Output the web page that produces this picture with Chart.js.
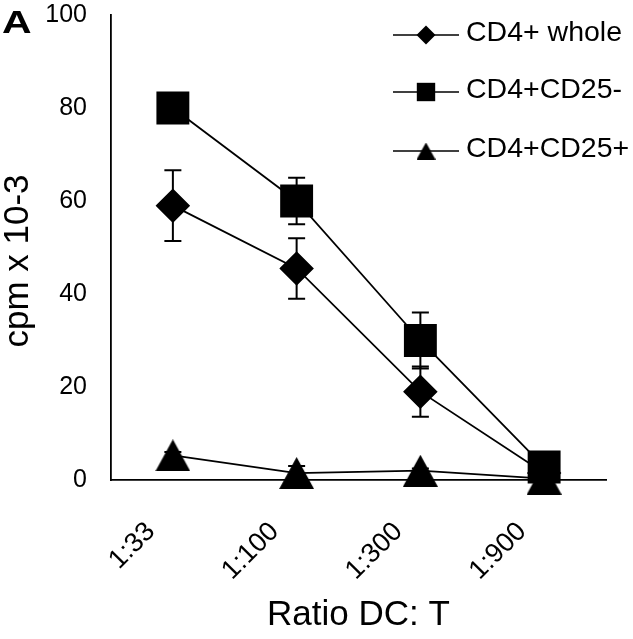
<!DOCTYPE html>
<html>
<head>
<meta charset="utf-8">
<script src="https://cdn.jsdelivr.net/npm/chart.js@4"></script>
<style>
  html, body { margin: 0; padding: 0; background: #fff; }
  #wrap { width: 633px; height: 639px; }
</style>
</head>
<body>
<div id="wrap"><canvas id="chart"></canvas></div>
<script>
const labels = ['1:33', '1:100', '1:300', '1:900'];
const yTicks = [0, 20, 40, 60, 80, 100];

const wholeValues = [59, 45.5, 19, 1.5];
const wholeErr = [7.6, 6.5, 5.4, 0.8];

const cd25negValues = [80, 60, 30, 2.8];
const cd25negErr = [1, 5, 6, 1];

const cd25posValues = [5.3, 1.5, 2, 0.3];
const cd25posErr = [0.7, 1.5, 0.5, 0.3];

const FONT = "'Liberation Sans', Arial, Helvetica, sans-serif";

// triangle marker as a small canvas so it is centred on its box like the original
function triangle(w, h) {
  const c = document.createElement('canvas');
  c.width = w; c.height = h;
  const g = c.getContext('2d');
  g.fillStyle = '#000';
  g.beginPath();
  g.moveTo(w / 2, 0);
  g.lineTo(w, h);
  g.lineTo(0, h);
  g.closePath();
  g.fill();
  return c;
}
const triBig = triangle(35, 32);
const triSmall = triangle(19, 17);

const errors = [wholeErr, cd25negErr, cd25posErr];

const errorBars = {
  id: 'errorBars',
  beforeDatasetsDraw(chart) {
    const ctx = chart.ctx;
    const y = chart.scales.y;
    ctx.save();
    ctx.strokeStyle = '#000';
    ctx.lineWidth = 2;
    chart.data.datasets.forEach((ds, i) => {
      const meta = chart.getDatasetMeta(i);
      meta.data.forEach((pt, j) => {
        const e = errors[i][j];
        const top = y.getPixelForValue(ds.data[j] + e);
        const bot = y.getPixelForValue(ds.data[j] - e);
        ctx.beginPath();
        ctx.moveTo(pt.x, top); ctx.lineTo(pt.x, bot);
        ctx.moveTo(pt.x - 8.5, top); ctx.lineTo(pt.x + 8.5, top);
        ctx.moveTo(pt.x - 8.5, bot); ctx.lineTo(pt.x + 8.5, bot);
        ctx.stroke();
      });
    });
    ctx.restore();
  }
};

const legendItems = [
  { text: 'CD4+ whole', style: 'rectRot', radius: 9.5 },
  { text: 'CD4+CD25-', style: 'rect', radius: 13 },
  { text: 'CD4+CD25+', style: triSmall, radius: 9 }
];

const extras = {
  id: 'extras',
  afterDraw(chart) {
    const ctx = chart.ctx;
    ctx.save();
    // panel letter
    ctx.fillStyle = '#000';
    ctx.font = 'bold 32px ' + FONT;
    ctx.textAlign = 'left';
    ctx.textBaseline = 'alphabetic';
    ctx.save();
    ctx.translate(2, 33);
    ctx.scale(1.28, 1);
    ctx.fillText('A', 0, 0);
    ctx.restore();
    // y axis title, centred a little below the plot middle as in the original
    ctx.save();
    ctx.translate(18, 261);
    ctx.rotate(-Math.PI / 2);
    ctx.font = '35px ' + FONT;
    ctx.textAlign = 'center';
    ctx.textBaseline = 'middle';
    ctx.fillText('cpm x 10-3', 0, 0);
    ctx.restore();
    // legend
    const rows = [35, 92, 151];
    legendItems.forEach((it, k) => {
      const ly = rows[k];
      ctx.strokeStyle = '#000';
      ctx.lineWidth = 1.5;
      ctx.beginPath();
      ctx.moveTo(393, ly); ctx.lineTo(459, ly);
      ctx.stroke();
      ctx.fillStyle = '#000';
      Chart.helpers.drawPoint(ctx, { pointStyle: it.style, radius: it.radius, rotation: 0, borderWidth: 0 }, 426, ly);
      ctx.font = '28.5px ' + FONT;
      ctx.textAlign = 'left';
      ctx.textBaseline = 'middle';
      ctx.fillText(it.text, 466, ly - 2);
    });
    ctx.restore();
  }
};

new Chart(document.getElementById('chart'), {
  type: 'line',
  data: {
    labels: labels,
    datasets: [
      {
        label: 'CD4+ whole',
        data: wholeValues,
        borderColor: '#000',
        backgroundColor: '#000',
        borderWidth: 1.8,
        pointStyle: 'rectRot',
        pointRadius: 16,
        pointHoverRadius: 16,
        clip: false,
        order: 1
      },
      {
        label: 'CD4+CD25-',
        data: cd25negValues,
        borderColor: '#000',
        backgroundColor: '#000',
        borderWidth: 1.8,
        pointStyle: 'rect',
        pointRadius: 22,
        pointHoverRadius: 22,
        clip: false,
        order: 0
      },
      {
        label: 'CD4+CD25+',
        data: cd25posValues,
        borderColor: '#000',
        backgroundColor: '#000',
        borderWidth: 1.8,
        pointStyle: triBig,
        pointRadius: 18,
        clip: false,
        order: 2
      }
    ]
  },
  options: {
    responsive: true,
    maintainAspectRatio: false,
    animation: false,
    layout: { autoPadding: false, padding: { top: 15, right: 27, left: 0, bottom: 0 } },
    plugins: {
      legend: { display: false },
      tooltip: { enabled: false }
    },
    scales: {
      x: {
        offset: true,
        grid: { display: false, drawTicks: false },
        border: { display: true, color: '#000', width: 1.8 },
        ticks: {
          color: '#000',
          font: { family: FONT, size: 27 },
          minRotation: 45,
          maxRotation: 45,
          padding: 36,
          labelOffset: -22
        },
        title: {
          display: true,
          text: 'Ratio DC: T',
          color: '#000',
          font: { family: FONT, size: 35 },
          padding: { top: 0, bottom: 3 }
        },
        afterFit(s) { s.height = 159; }
      },
      y: {
        min: 0,
        max: 100,
        afterBuildTicks(s) { s.ticks = yTicks.map(v => ({ value: v })); },
        grid: { display: false, drawTicks: false },
        border: { display: true, color: '#000', width: 1.8 },
        ticks: {
          color: '#000',
          font: { family: FONT, size: 25 },
          padding: 24
        },
        afterFit(s) {
          s.width = 111;
          s.paddingTop = 0;
          s.paddingBottom = 0;
        }
      }
    }
  },
  plugins: [errorBars, extras]
});
</script>
</body>
</html>
